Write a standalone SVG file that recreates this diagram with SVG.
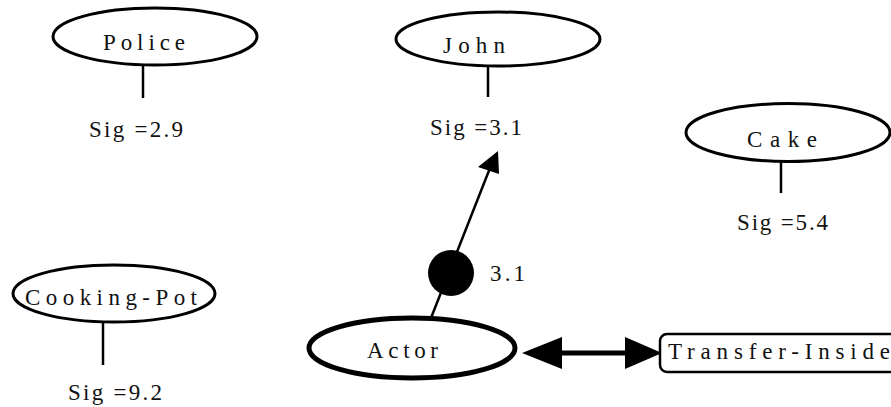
<svg xmlns="http://www.w3.org/2000/svg" width="891" height="407" viewBox="0 0 891 407">
<style>
.node{fill:#fff;stroke:#000;stroke-width:3}
.thick{stroke-width:5}
.lbl{font-family:"Liberation Serif","Times New Roman",serif;font-size:23px;fill:#111}
.ln{stroke:#000;stroke-width:2.5;fill:none}
</style>
<rect width="891" height="407" fill="#fff"/>
<g id="connectors">
<line class="ln" x1="143" y1="65" x2="143" y2="98"/>
<line class="ln" x1="488" y1="66" x2="488" y2="97"/>
<line class="ln" x1="781" y1="161" x2="781" y2="193"/>
<line class="ln" x1="103" y1="322" x2="103" y2="365"/>
<line class="ln" x1="431" y1="318" x2="490" y2="168"/>
<polygon points="498,151 478,167 499,174" fill="#000"/>
<circle cx="451" cy="273" r="23" fill="#000"/>
<text class="lbl" x="490" y="281" textLength="35" lengthAdjust="spacing">3.1</text>
<line x1="558" y1="353" x2="629" y2="353" stroke="#000" stroke-width="5"/>
<polygon points="522,353 562,337 562,369" fill="#000"/>
<polygon points="662,353 625,337 625,369" fill="#000"/>
</g>
<g id="police">
<ellipse class="node" cx="155" cy="36.5" rx="102" ry="28.5"/>
<text class="lbl" x="103" y="50" textLength="82" lengthAdjust="spacing">Police</text>
<text class="lbl" x="89" y="137" textLength="94" lengthAdjust="spacing">Sig =2.9</text>
</g>
<g id="john">
<ellipse class="node" cx="498" cy="39" rx="102" ry="27"/>
<text class="lbl" x="443" y="53" textLength="62" lengthAdjust="spacing">John</text>
<text class="lbl" x="430" y="135" textLength="92" lengthAdjust="spacing">Sig =3.1</text>
</g>
<g id="cake">
<ellipse class="node" cx="788" cy="132.5" rx="102" ry="29"/>
<text class="lbl" x="747" y="147" textLength="70" lengthAdjust="spacing">Cake</text>
<text class="lbl" x="737" y="230" textLength="91" lengthAdjust="spacing">Sig =5.4</text>
</g>
<g id="cooking-pot">
<ellipse class="node" cx="114" cy="293.5" rx="101" ry="28.5"/>
<text class="lbl" x="25" y="305" textLength="172" lengthAdjust="spacing">Cooking-Pot</text>
<text class="lbl" x="68" y="400" textLength="94" lengthAdjust="spacing">Sig =9.2</text>
</g>
<g id="actor">
<ellipse class="node thick" cx="412" cy="348" rx="103" ry="30"/>
<text class="lbl" x="367" y="358" textLength="71" lengthAdjust="spacing">Actor</text>
</g>
<g id="transfer-inside">
<rect class="node" x="660" y="334" width="260" height="38" rx="7" style="stroke-width:2.5"/>
<text class="lbl" x="668" y="359" textLength="222" lengthAdjust="spacing">Transfer-Inside</text>
</g>
</svg>
